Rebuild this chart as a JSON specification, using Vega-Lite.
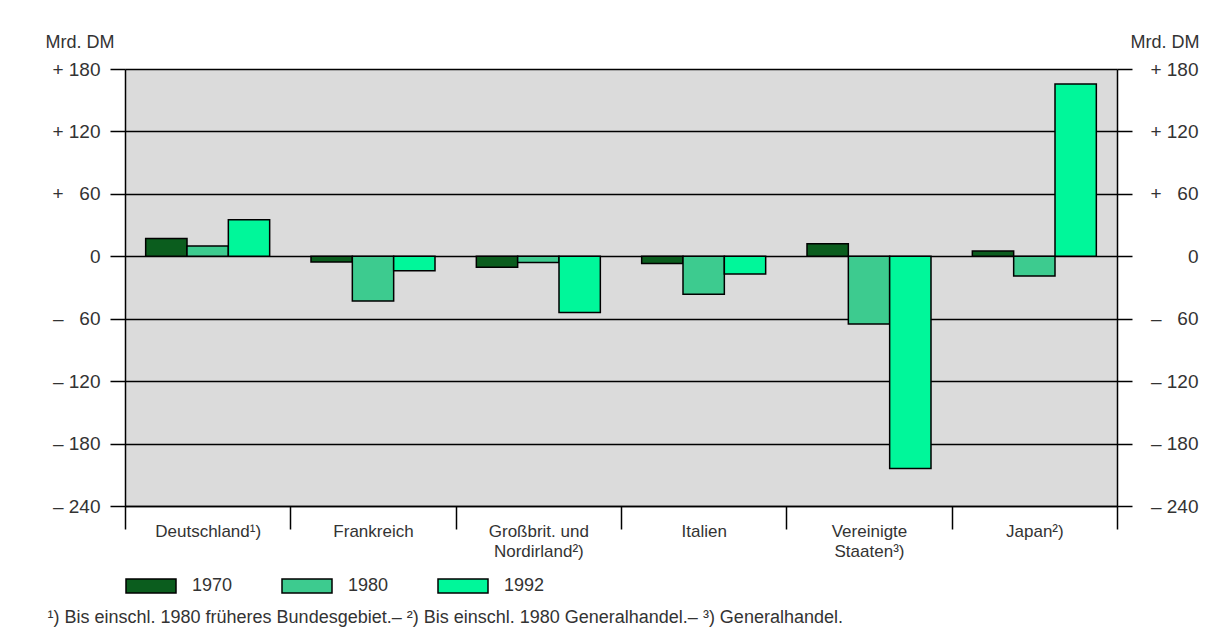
{
  "$schema": "https://vega.github.io/schema/vega-lite/v6.json",
  "width": 992,
  "height": 437,
  "autosize": {"type": "none"},
  "padding": {"left": 125, "top": 69, "right": 112, "bottom": 131},
  "background": "white",
  "config": {
    "font": "Liberation Sans",
    "view": {"fill": "#dbdbdb", "stroke": null},
    "axis": {"labelFont": "Liberation Sans", "titleFont": "Liberation Sans", "labelColor": "#333333", "titleColor": "#333333", "titleFontWeight": "normal"},
    "legend": {"labelFont": "Liberation Sans"}
  },
  "data": {
    "values": [
      {"land": "Deutschland¹)", "jahr": "1970", "wert": 17},
      {"land": "Deutschland¹)", "jahr": "1980", "wert": 10},
      {"land": "Deutschland¹)", "jahr": "1992", "wert": 35},
      {"land": "Frankreich", "jahr": "1970", "wert": -5.5},
      {"land": "Frankreich", "jahr": "1980", "wert": -43},
      {"land": "Frankreich", "jahr": "1992", "wert": -14},
      {"land": "Großbrit. und Nordirland²)", "jahr": "1970", "wert": -10.5},
      {"land": "Großbrit. und Nordirland²)", "jahr": "1980", "wert": -6},
      {"land": "Großbrit. und Nordirland²)", "jahr": "1992", "wert": -54},
      {"land": "Italien", "jahr": "1970", "wert": -7},
      {"land": "Italien", "jahr": "1980", "wert": -36.5},
      {"land": "Italien", "jahr": "1992", "wert": -17},
      {"land": "Vereinigte Staaten³)", "jahr": "1970", "wert": 12},
      {"land": "Vereinigte Staaten³)", "jahr": "1980", "wert": -65},
      {"land": "Vereinigte Staaten³)", "jahr": "1992", "wert": -204},
      {"land": "Japan²)", "jahr": "1970", "wert": 5},
      {"land": "Japan²)", "jahr": "1980", "wert": -19},
      {"land": "Japan²)", "jahr": "1992", "wert": 165.5}
    ]
  },
  "layer": [
    {
      "mark": {"type": "bar", "stroke": "black", "strokeWidth": 1.5},
      "encoding": {
        "x": {
          "field": "land", "type": "nominal",
          "sort": ["Deutschland¹)", "Frankreich", "Großbrit. und Nordirland²)", "Italien", "Vereinigte Staaten³)", "Japan²)"],
          "scale": {"paddingInner": 0, "paddingOuter": 0},
          "axis": {
            "title": "¹) Bis einschl. 1980 früheres Bundesgebiet.– ²) Bis einschl. 1980 Generalhandel.– ³) Generalhandel.",
            "titleAnchor": "start", "titleX": -78, "titleY": 111, "titleAlign": "left", "titleBaseline": "middle", "titleFontSize": 18,
            "labelAngle": 0, "tickBand": "extent", "tickSize": 23, "tickColor": "black", "tickWidth": 1.5,
            "domainColor": "black", "domainWidth": 1.5,
            "labelFontSize": 17, "labelPadding": -6, "labelBaseline": "top", "labelLineHeight": 20,
            "labelExpr": "datum.label == 'Großbrit. und Nordirland²)' ? ['Großbrit. und', 'Nordirland²)'] : datum.label == 'Vereinigte Staaten³)' ? ['Vereinigte', 'Staaten³)'] : datum.label"
          }
        },
        "xOffset": {"field": "jahr", "type": "nominal", "scale": {"paddingInner": 0, "paddingOuter": 0.5}},
        "y": {
          "field": "wert", "type": "quantitative",
          "scale": {"domain": [-240, 180], "nice": false},
          "axis": {
            "orient": "left",
            "values": [-240, -180, -120, -60, 0, 60, 120, 180],
            "title": "Mrd. DM", "titleAngle": 0, "titleX": -80, "titleY": -27, "titleAlign": "left", "titleBaseline": "middle", "titleFontSize": 18,
            "grid": true, "gridColor": "black", "gridWidth": 1.5, "gridOpacity": 1,
            "tickSize": 15, "tickColor": "black", "tickWidth": 1.5,
            "domainColor": "black", "domainWidth": 1.5,
            "labelFontSize": 19, "labelPadding": 10,
            "labelExpr": "datum.value > 0 ? '+ ' + (datum.value < 100 ? '\u2007' : '') + datum.value : datum.value < 0 ? '– ' + (datum.value > -100 ? '\u2007' : '') + abs(datum.value) : '0'"
          }
        },
        "color": {
          "field": "jahr", "type": "nominal",
          "scale": {"domain": ["1970", "1980", "1992"], "range": ["#0b5d1e", "#3dcb8f", "#00f79a"]},
          "legend": {
            "orient": "none", "legendX": 0, "legendY": 491, "direction": "horizontal", "title": null,
            "symbolType": "M-1,-0.28H1V0.28H-1Z", "symbolSize": 2500,
            "symbolStrokeColor": "black", "symbolStrokeWidth": 1.5, "symbolOpacity": 1,
            "labelFontSize": 18, "labelOffset": 15, "columnPadding": 46, "padding": 0, "labelColor": "#333333"
          }
        }
      }
    },
    {
      "mark": {"type": "rule", "opacity": 0},
      "encoding": {
        "y": {
          "field": "wert", "type": "quantitative",
          "axis": {
            "orient": "right",
            "values": [-240, -180, -120, -60, 0, 60, 120, 180],
            "title": "Mrd. DM", "titleAngle": 0, "titleX": 13, "titleY": -27, "titleAlign": "left", "titleBaseline": "middle", "titleFontSize": 18,
            "grid": false,
            "tickSize": 15, "tickColor": "black", "tickWidth": 1.5,
            "domainColor": "black", "domainWidth": 1.5,
            "labelFontSize": 19, "labelPadding": 66, "labelAlign": "right",
            "labelExpr": "datum.value > 0 ? '+ ' + (datum.value < 100 ? '\u2007' : '') + datum.value : datum.value < 0 ? '– ' + (datum.value > -100 ? '\u2007' : '') + abs(datum.value) : '0'"
          }
        }
      }
    }
  ],
  "resolve": {"axis": {"y": "independent"}}
}
